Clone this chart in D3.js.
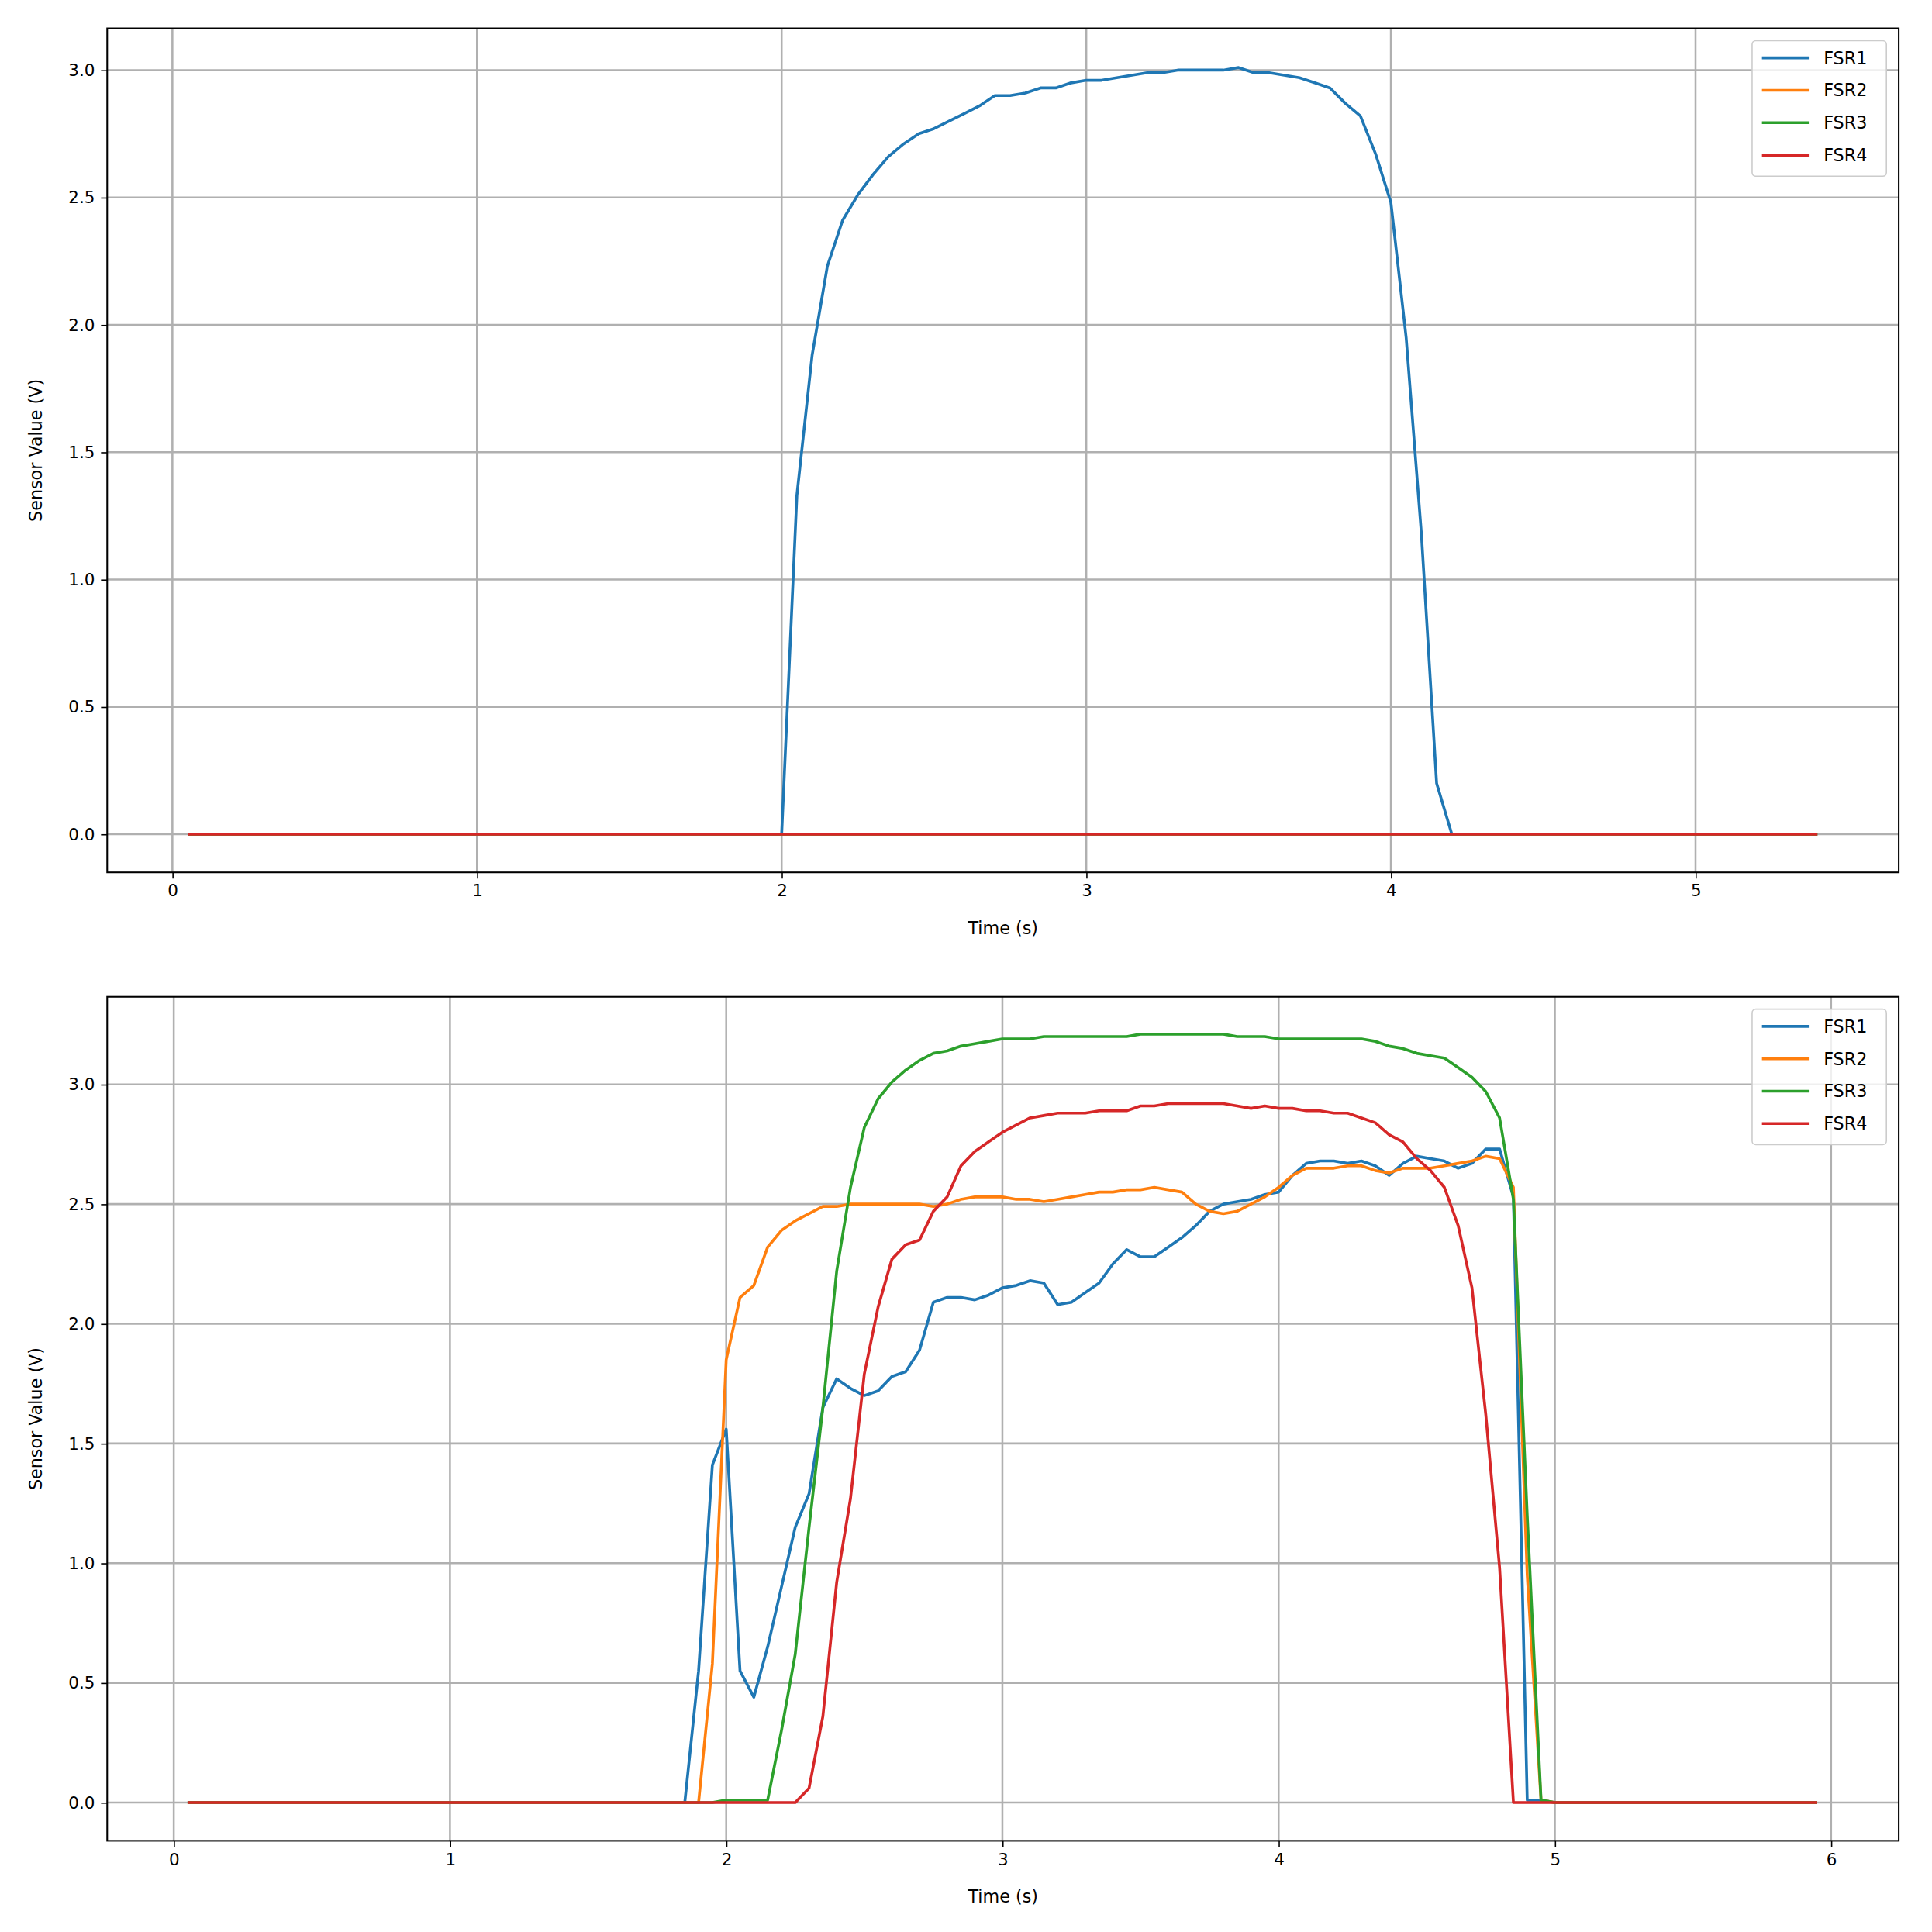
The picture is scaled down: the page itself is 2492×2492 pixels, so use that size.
<!DOCTYPE html>
<html><head><meta charset="utf-8">
<script src="https://cdn.jsdelivr.net/npm/d3@7"></script>
<style>body{margin:0;background:#fff}text{font-family:"DejaVu Sans",sans-serif}</style>
</head><body>
<svg id="c" width="2492" height="2492" viewBox="0 0 1568 1568"></svg>
<script>
const seriesNames = ["FSR1","FSR2","FSR3","FSR4"];
const colors = ["#1f77b4","#ff7f0e","#2ca02c","#d62728"];
const step = 0.05;
// top chart: time 0.05..5.40
const topEnd = 5.40;
const top_FSR1_start = 2.05;
const top_FSR1 = [1.33,1.88,2.23,2.41,2.51,2.59,2.66,2.71,2.75,2.77,2.80,2.83,2.86,2.90,2.90,2.91,2.93,2.93,2.95,2.96,2.96,2.97,2.98,2.99,2.99,3.00,3.00,3.00,3.00,3.01,2.99,2.99,2.98,2.97,2.95,2.93,2.87,2.82,2.67,2.48,1.95,1.18,0.20];
// bottom chart: time 0.05..5.95
const botEnd = 5.95;
const bot_FSR1_start = 1.90;
const bot_FSR1 = [0.55,1.41,1.56,0.55,0.44,0.65,0.90,1.15,1.29,1.65,1.77,1.73,1.70,1.72,1.78,1.80,1.89,2.09,2.11,2.11,2.10,2.12,2.15,2.16,2.18,2.17,2.08,2.09,2.13,2.17,2.25,2.31,2.28,2.28,2.32,2.36,2.41,2.47,2.50,2.51,2.52,2.54,2.55,2.62,2.67,2.68,2.68,2.67,2.68,2.66,2.62,2.67,2.70,2.69,2.68,2.65,2.67,2.73,2.73,2.53,0.01,0.01];
const bot_FSR2_start = 1.95;
const bot_FSR2 = [0.58,1.85,2.11,2.16,2.32,2.39,2.43,2.46,2.49,2.49,2.50,2.50,2.50,2.50,2.50,2.50,2.49,2.50,2.52,2.53,2.53,2.53,2.52,2.52,2.51,2.52,2.53,2.54,2.55,2.55,2.56,2.56,2.57,2.56,2.55,2.50,2.47,2.46,2.47,2.50,2.53,2.57,2.62,2.65,2.65,2.65,2.66,2.66,2.64,2.63,2.65,2.65,2.65,2.66,2.67,2.68,2.70,2.69,2.57,0.95,0.01];
const bot_FSR3_start = 2.00;
const bot_FSR3 = [0.01,0.01,0.01,0.01,0.30,0.62,1.15,1.65,2.22,2.57,2.82,2.94,3.01,3.06,3.10,3.13,3.14,3.16,3.17,3.18,3.19,3.19,3.19,3.20,3.20,3.20,3.20,3.20,3.20,3.20,3.21,3.21,3.21,3.21,3.21,3.21,3.21,3.20,3.20,3.20,3.19,3.19,3.19,3.19,3.19,3.19,3.19,3.18,3.16,3.15,3.13,3.12,3.11,3.07,3.03,2.97,2.86,2.52,1.20,0.01];
const bot_FSR4_start = 2.30;
const bot_FSR4 = [0.06,0.36,0.92,1.27,1.79,2.07,2.27,2.33,2.35,2.47,2.53,2.66,2.72,2.76,2.80,2.83,2.86,2.87,2.88,2.88,2.88,2.89,2.89,2.89,2.91,2.91,2.92,2.92,2.92,2.92,2.92,2.91,2.90,2.91,2.90,2.90,2.89,2.89,2.88,2.88,2.86,2.84,2.79,2.76,2.69,2.64,2.57,2.41,2.15,1.62,0.98];

function build(end, start, vals){
  const n = Math.round(end/step);
  const s = Math.round(start/step);
  const out=[];
  for(let i=1;i<=n;i++){ const k=i-s; out.push([i*step, (k>=0&&k<vals.length)?vals[k]:0]); }
  return out;
}
const topData = [build(topEnd,top_FSR1_start,top_FSR1),build(topEnd,1,[]),build(topEnd,1,[]),build(topEnd,1,[])];
const botData = [build(botEnd,bot_FSR1_start,bot_FSR1),build(botEnd,bot_FSR2_start,bot_FSR2),build(botEnd,bot_FSR3_start,bot_FSR3),build(botEnd,bot_FSR4_start,bot_FSR4)];

const svg = d3.select("#c");
function panel(y0,y1,xdom,ydom,xticks,yticks,data){
  const L=87,R=1541;
  const x=d3.scaleLinear().domain(xdom).range([L,R]);
  const y=d3.scaleLinear().domain(ydom).range([y1,y0]);
  const g=svg.append("g");
  xticks.forEach(t=>g.append("line").attr("x1",x(t)).attr("x2",x(t)).attr("y1",y0).attr("y2",y1).attr("stroke","#b0b0b0").attr("stroke-width",1.6));
  yticks.forEach(t=>g.append("line").attr("y1",y(t)).attr("y2",y(t)).attr("x1",L).attr("x2",R).attr("stroke","#b0b0b0").attr("stroke-width",1.6));
  const line=d3.line().x(d=>x(d[0])).y(d=>y(d[1]));
  data.forEach((d,i)=>g.append("path").attr("d",line(d)).attr("fill","none").attr("stroke",colors[i]).attr("stroke-width",2.3).attr("stroke-linejoin","round"));
  const ax=g.append("g").attr("transform",`translate(0,${y1})`).call(d3.axisBottom(x).tickValues(xticks).tickFormat(d3.format("d")).tickSize(5).tickPadding(5));
  const ay=g.append("g").attr("transform",`translate(${L},0)`).call(d3.axisLeft(y).tickValues(yticks).tickFormat(d3.format(".1f")).tickSize(5).tickPadding(5));
  [ax,ay].forEach(a=>a.attr("font-size",13.5).attr("font-family","DejaVu Sans"));
  g.selectAll(".tick text").style("font-size","13.5px").attr("fill","#000");
  g.selectAll(".domain").remove();
  g.append("rect").attr("x",L).attr("y",y0).attr("width",R-L).attr("height",y1-y0).attr("fill","none").attr("stroke","#000").attr("stroke-width",1.3);
  g.append("text").attr("x",(L+R)/2).attr("y",y1+50).attr("text-anchor","middle").style("font-size","14px").text("Time (s)");
  g.append("text").attr("transform",`translate(34,${(y0+y1)/2}) rotate(-90)`).attr("text-anchor","middle").style("font-size","14px").text("Sensor Value (V)");
  const lg=g.append("g");
  lg.append("rect").attr("x",1422).attr("y",y0+10).attr("width",109).attr("height",110).attr("rx",3).attr("fill","#fff").attr("fill-opacity",0.8).attr("stroke","#ccc");
  seriesNames.forEach((n,i)=>{
    const yy=y0+24+i*26.3;
    lg.append("line").attr("x1",1430).attr("x2",1468).attr("y1",yy).attr("y2",yy).attr("stroke",colors[i]).attr("stroke-width",2.3);
    lg.append("text").attr("x",1480).attr("y",yy+5).style("font-size","14px").text(n);
  });
}
panel(23,708,[-0.214,5.667],[-0.15,3.164],[0,1,2,3,4,5],[0,0.5,1,1.5,2,2.5,3],topData);
panel(809,1494,[-0.241,6.245],[-0.16,3.366],[0,1,2,3,4,5,6],[0,0.5,1,1.5,2,2.5,3],botData);
</script>
</body></html>
